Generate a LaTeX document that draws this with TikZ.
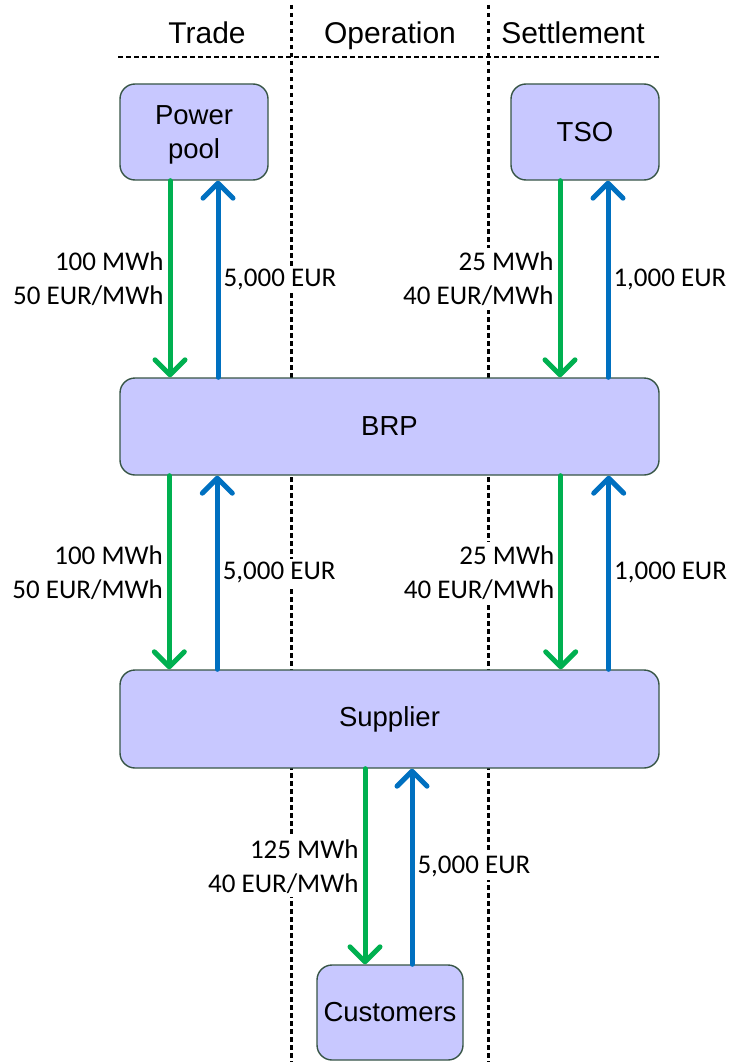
\documentclass[tikz,border=0pt]{standalone}
\usepackage{fontspec}
\setmainfont{Liberation Sans}
\newfontfamily\lab{Carlito}
\usetikzlibrary{arrows.meta}
\definecolor{gr}{HTML}{00B050}
\definecolor{bl}{HTML}{0070C0}
\definecolor{boxfill}{RGB}{200,200,255}
\definecolor{boxline}{RGB}{55,85,70}
\tikzset{
  box/.style={draw=boxline, line width=1.4pt, fill=boxfill, rounded corners=15pt,
    inner sep=0pt, font=\fontsize{27.5}{34}\selectfont, align=center},
  flowg/.style={draw=gr, line width=5pt, line cap=round, -{Straight Barb[length=15pt,width=30pt,round]}},
  flowb/.style={draw=bl, line width=5pt, line cap=round, -{Straight Barb[length=15pt,width=30pt,round]}},
  lbl/.style={fill=white, inner sep=3pt, font=\lab\fontsize{27}{34}\selectfont},
  lbll/.style={lbl, anchor=east, align=right, inner sep=4pt},
  lblr/.style={lbl, anchor=west, align=left},
  vsep/.style={line width=3pt, dash pattern=on 4.5pt off 3.5pt},
  hsep/.style={line width=2.5pt, dash pattern=on 5pt off 3pt},
  head/.style={anchor=base, font=\fontsize{30}{34}\selectfont}
}
\begin{document}
\begin{tikzpicture}[x=1pt,y=-1pt]
\useasboundingbox (0,0) rectangle (733,1062);
% column separators
\coordinate (v1t) at (291,5);
\coordinate (v1b) at (291,1062);
\coordinate (v2t) at (488,5);
\coordinate (v2b) at (488,1062);
\coordinate (hl) at (118,57);
\coordinate (hr) at (660,57);
\draw[vsep] (v1t) -- (v1b);
\draw[vsep] (v2t) -- (v2b);
\draw[hsep] (hl) -- (hr);
% headers
\node[head] (hTrade) at (207,44) {Trade};
\node[head] (hOp) at (390,44) {Operation};
\node[head] (hSet) at (573,44) {Settlement};
% boxes
\node[box, minimum width=148pt, minimum height=96pt] (pp) at (194,132) {};
\node[box, draw=none, fill=none] (pptext) at ([yshift=-3pt]pp.center) {Power\\pool};
\node[box, minimum width=148pt, minimum height=96pt] (tso) at (585,132) {TSO};
\node[box, minimum width=539pt, minimum height=97pt] (brp) at (389.5,426.5) {BRP};
\node[box, minimum width=539pt, minimum height=98pt] (sup) at (389.5,719) {Supplier};
\node[box, minimum width=146pt, minimum height=95pt] (cust) at (390,1012.5) {Customers};
% Power pool <-> BRP
\draw[flowg] ([xshift=-24pt]pp.south) -- node[lbll] {100 MWh\\50 EUR/MWh} ([xshift=-24pt]pp.south |- brp.north);
\draw[flowb] ([xshift=24pt]pp.south |- brp.north) -- node[lblr] {5,000 EUR} ([xshift=24pt]pp.south);
% TSO <-> BRP
\draw[flowg] ([xshift=-25pt]tso.south) -- node[lbll] {25 MWh\\40 EUR/MWh} ([xshift=-25pt]tso.south |- brp.north);
\draw[flowb] ([xshift=23pt]tso.south |- brp.north) -- node[lblr] {1,000 EUR} ([xshift=23pt]tso.south);
% BRP <-> Supplier
\draw[flowg] ([xshift=50pt]brp.south west) -- node[lbll] {100 MWh\\50 EUR/MWh} ([xshift=50pt]brp.south west |- sup.north);
\draw[flowb] ([xshift=98pt]brp.south west |- sup.north) -- node[lblr] {5,000 EUR} ([xshift=98pt]brp.south west);
\draw[flowg] ([xshift=-99pt]brp.south east) -- node[lbll] {25 MWh\\40 EUR/MWh} ([xshift=-99pt]brp.south east |- sup.north);
\draw[flowb] ([xshift=-51pt]brp.south east |- sup.north) -- node[lblr] {1,000 EUR} ([xshift=-51pt]brp.south east);
% Supplier <-> Customers
\draw[flowg] ([xshift=-25pt]cust.north |- sup.south) -- node[lbll] {125 MWh\\40 EUR/MWh} ([xshift=-25pt]cust.north);
\draw[flowb] ([xshift=22pt]cust.north) -- node[lblr] {5,000 EUR} ([xshift=22pt]cust.north |- sup.south);
\end{tikzpicture}
\end{document}
